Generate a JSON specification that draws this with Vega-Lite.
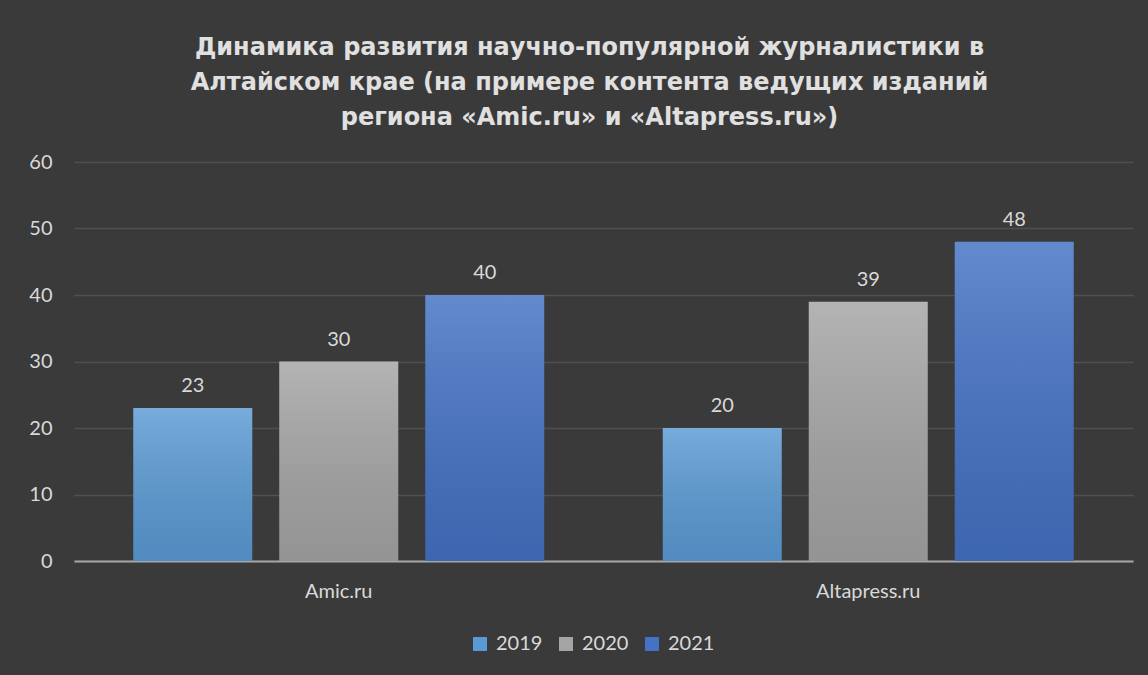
{
  "$schema": "https://vega.github.io/schema/vega-lite/v6.json",
  "width": 1059,
  "height": 399,
  "autosize": {"type": "none"},
  "padding": {"left": 74, "top": 162, "right": 15, "bottom": 114},
  "background": "#3a3a3a",
  "title": {
    "text": ["Динамика развития научно-популярной журналистики в", "Алтайском крае (на примере контента ведущих изданий", "региона «Amic.ru» и «Altapress.ru»)"],
    "font": "DejaVu Sans",
    "fontSize": 24,
    "fontWeight": "bold",
    "color": "#e0e0e0",
    "lineHeight": 35,
    "anchor": "middle",
    "frame": "group",
    "offset": 22,
    "dx": -14
  },
  "data": {
    "values": [
      {"site": "Amic.ru", "year": "2019", "value": 23},
      {"site": "Amic.ru", "year": "2020", "value": 30},
      {"site": "Amic.ru", "year": "2021", "value": 40},
      {"site": "Altapress.ru", "year": "2019", "value": 20},
      {"site": "Altapress.ru", "year": "2020", "value": 39},
      {"site": "Altapress.ru", "year": "2021", "value": 48}
    ]
  },
  "encoding": {
    "x": {
      "field": "site",
      "type": "nominal",
      "sort": ["Amic.ru", "Altapress.ru"],
      "scale": {"paddingInner": 0, "paddingOuter": 0},
      "title": null,
      "axis": {
        "labelAngle": 0,
        "labelFont": "Lato",
        "labelFontSize": 20,
        "labelColor": "#d9d9d9",
        "labelPadding": 20,
        "ticks": false,
        "domain": true,
        "domainColor": "#a6a6a6",
        "domainWidth": 2,
        "grid": false
      }
    },
    "xOffset": {
      "field": "year",
      "type": "nominal",
      "scale": {"paddingInner": 0.185, "paddingOuter": 0.406}
    },
    "y": {
      "field": "value",
      "type": "quantitative",
      "scale": {"domain": [0, 60]},
      "title": null,
      "axis": {
        "values": [0, 10, 20, 30, 40, 50, 60],
        "labelFont": "Lato",
        "labelFontSize": 20,
        "labelColor": "#d9d9d9",
        "labelPadding": 22,
        "ticks": false,
        "domain": false,
        "grid": true,
        "gridColor": "#505050",
        "gridWidth": 1.5
      }
    }
  },
  "layer": [
    {
      "mark": {"type": "bar"},
      "encoding": {
        "color": {
          "field": "year",
          "type": "nominal",
          "scale": {"domain": ["2019", "2020", "2021"], "range": ["#5b9bd5", "#a5a5a5", "#4472c4"]},
          "legend": {
            "title": null,
            "orient": "none",
            "legendX": 396,
            "legendY": 472,
            "direction": "horizontal",
            "symbolType": "square",
            "symbolSize": 196,
            "symbolStrokeWidth": 0,
            "labelFont": "Lato",
            "labelFontSize": 20,
            "labelColor": "#d9d9d9",
            "labelOffset": 6,
            "columnPadding": 13
          }
        }
      }
    },
    {
      "mark": {
        "type": "bar",
        "fill": {
          "gradient": "linear",
          "x1": 0, "y1": 0, "x2": 0, "y2": 1,
          "stops": [
            {"offset": 0, "color": "rgba(255,255,255,0.17)"},
            {"offset": 1, "color": "rgba(0,0,0,0.1)"}
          ]
        }
      }
    },
    {
      "mark": {"type": "text", "dy": -12, "baseline": "bottom", "font": "Lato", "fontSize": 20, "color": "#d9d9d9"},
      "encoding": {"text": {"field": "value", "type": "quantitative"}}
    }
  ],
  "config": {
    "view": {"stroke": null}
  }
}
